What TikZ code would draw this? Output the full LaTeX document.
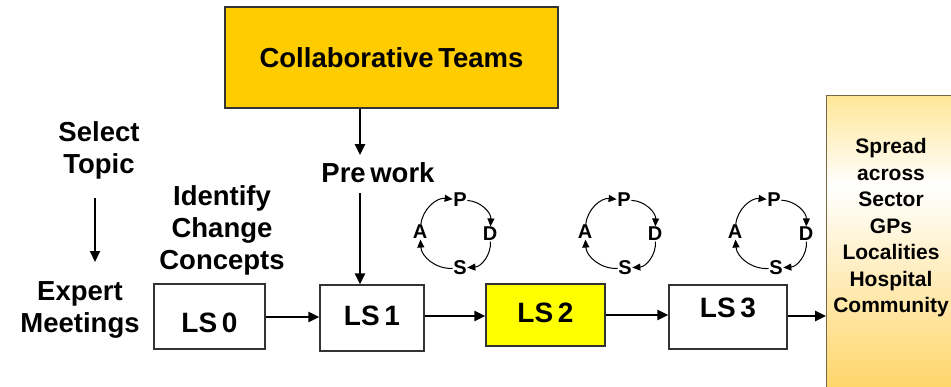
\documentclass[tikz,border=0pt]{standalone}
\usepackage{fontspec}
\setmainfont{Liberation Sans}[WordSpace=0.6]
\usetikzlibrary{arrows.meta}
\definecolor{gold}{HTML}{FFCC00}
\definecolor{lsyellow}{HTML}{FFFF00}
\definecolor{sptop}{HTML}{FFCC22}
\definecolor{spbot}{HTML}{FFC838}
\definecolor{spborder}{HTML}{7A6545}
\definecolor{boxborder}{HTML}{333333}
\pgfdeclareverticalshading{spreadsh}{100bp}{color(0bp)=(spbot); color(15bp)=(spbot); color(60bp)=(white); color(92bp)=(sptop); color(100bp)=(sptop)}
\tikzset{
  big/.style={font=\bfseries\fontsize{27.5}{32}\selectfont, align=center, inner sep=0pt},
  lsbox/.style={draw=boxborder, line width=1.2pt, fill=white, font=\bfseries\fontsize{28}{32}\selectfont, inner sep=0pt},
  arr/.style={line width=2.5pt, -{Triangle[length=11pt,width=10pt]}},
  pdsa/.style={font=\bfseries\fontsize{20}{22}\selectfont, inner sep=0.5pt},
  cyc/.style={line width=1pt, -{Triangle[length=8pt,width=7pt]}, bend left=45},
}
\begin{document}
\begin{tikzpicture}[x=1pt,y=-1pt]
\useasboundingbox (0,0) rectangle (951,386);
% spread box
\node[shading=spreadsh, draw=spborder, line width=1.2pt, minimum width=140pt, minimum height=300pt, anchor=north west, inner sep=0pt] (spread) at (826,95) {};
\node[font=\bfseries\fontsize{21}{26.5}\selectfont, align=center, inner sep=0pt] (spreadtext) at (891,228) {Spread\\across\\Sector\\GPs\\Localities\\Hospital\\Community};
% collaborative teams
\node[draw=boxborder, line width=1.2pt, fill=gold, minimum width=333pt, minimum height=101pt, inner sep=0pt, font=\bfseries\fontsize{27.5}{32}\selectfont] (collab) at (391.5,57.5) {Collaborative Teams};
% texts
\node[big] (select) at (99,150) {Select\\Topic};
\node[big] (expert) at (80,310) {Expert\\Meetings};
\node[big] (identify) at (222,230) {Identify\\Change\\Concepts};
\node[big] (prework) at (378,173) {Pre work};
\coordinate (st1) at (95,198);
\coordinate (st2) at (95,262);
\draw[arr, line width=2pt] (st1) -- (st2);
\coordinate (pw1) at (360,155);
\coordinate (pw2) at (360,193);
\draw[arr] (collab.south -| pw1) -- (pw1);
% LS boxes
\node[lsbox, minimum width=111pt, minimum height=65pt, text height=32pt, text depth=0pt] (ls0) at (209.5,316.5) {LS 0};
\node[lsbox, minimum width=104pt, minimum height=66pt, text height=19pt, text depth=5pt] (ls1) at (372,318) {LS 1};
\node[lsbox, fill=lsyellow, minimum width=119pt, minimum height=62pt, text height=20pt, text depth=6pt] (ls2) at (545.5,315) {LS 2};
\node[lsbox, minimum width=118pt, minimum height=64pt, text height=20pt, text depth=19pt] (ls3) at (728,317) {LS 3};
\draw[arr] (pw2) -- (pw2 |- ls1.north);
\coordinate (r0) at (265,317);
\draw[arr] (ls0.east |- r0) -- (ls1.west |- r0);
\coordinate (r1) at (424,316);
\draw[arr] (ls1.east |- r1) -- (ls2.west |- r1);
\coordinate (r2) at (605,315);
\draw[arr] (ls2.east |- r2) -- (ls3.west |- r2);
\coordinate (r3) at (787,316);
\draw[arr] (ls3.east |- r3) -- (spread.west |- r3);
% PDSA cycles
\node[pdsa] (p1) at (460,200) {P};
\node[pdsa] (d1) at (490,234) {D};
\node[pdsa] (s1) at (460,268) {S};
\node[pdsa] (a1) at (420,232) {A};
\node[pdsa] (p2) at (624,200) {P};
\node[pdsa] (d2) at (655,234) {D};
\node[pdsa] (s2) at (625,268) {S};
\node[pdsa] (a2) at (585,232) {A};
\node[pdsa] (p3) at (774,200) {P};
\node[pdsa] (d3) at (806,234) {D};
\node[pdsa] (s3) at (776,268) {S};
\node[pdsa] (a3) at (735,232) {A};
\foreach \i in {1,2,3}{
  \draw[cyc] (a\i) to (p\i);
  \draw[cyc] (p\i) to (d\i);
  \draw[cyc] (d\i) to (s\i);
  \draw[cyc] (s\i) to (a\i);
}
\end{tikzpicture}
\end{document}
